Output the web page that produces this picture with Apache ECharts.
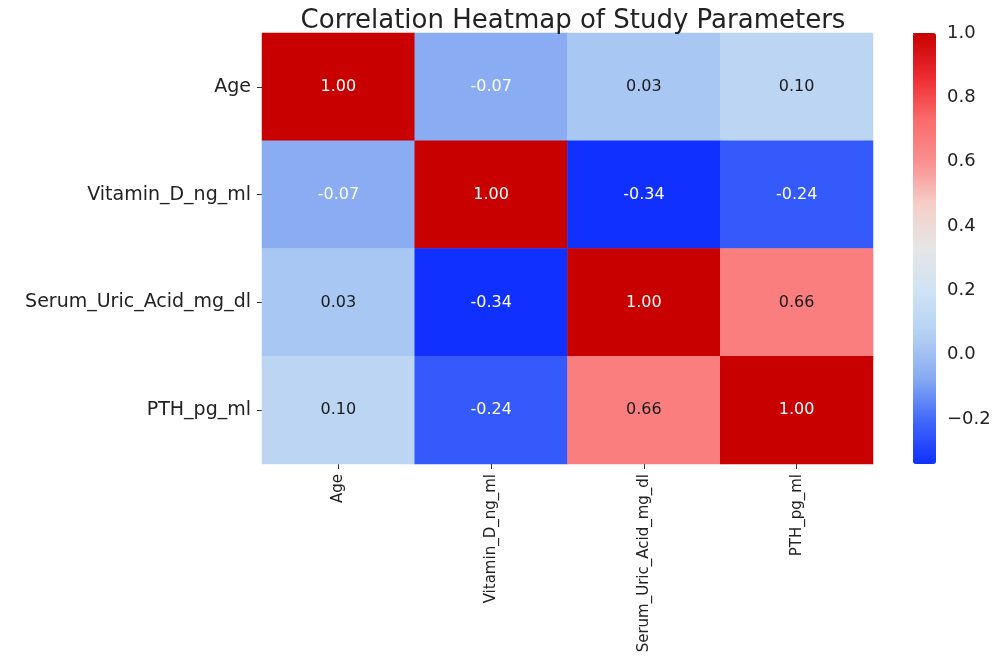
<!DOCTYPE html>
<html>
<head>
<meta charset="utf-8">
<script src="https://cdn.jsdelivr.net/npm/echarts@6/dist/echarts.min.js"></script>
<style>
html,body{margin:0;padding:0;background:#fff;}
#main{width:997px;height:657px;}
</style>
</head>
<body>
<div id="main"></div>
<script>
// 变量名
var params = ['Age', 'Vitamin_D_ng_ml', 'Serum_Uric_Acid_mg_dl', 'PTH_pg_ml'];
// 相关系数矩阵 (按行)
var rowAge = [1.00, -0.07, 0.03, 0.10];
var rowVitD = [-0.07, 1.00, -0.34, -0.24];
var rowUric = [0.03, -0.34, 1.00, 0.66];
var rowPth = [0.10, -0.24, 0.66, 1.00];
var colorbarTicks = [-0.2, 0.0, 0.2, 0.4, 0.6, 0.8, 1.0];
var vMin = -0.34, vMax = 1.0;

var rows = [rowAge, rowVitD, rowUric, rowPth];
var cmap = ['#1030ff', '#4068fa', '#88abf2', '#b3d0f3', '#cfe3f4', '#e6e6e6',
	'#f4cfc8', '#fa9090', '#fb6a6a', '#ec2a30', '#c80000'];

var font = 'DejaVu Sans';
var data = [];
for (var r = 0; r < rows.length; r++) {
	for (var c = 0; c < rows[r].length; c++) {
		var v = rows[r][c];
		var dark = v < -0.05 || v > 0.8;
		data.push({
			value: [c, r, v],
			label: {color: dark ? '#ffffff' : '#1a1a1a'}
		});
	}
}

var myChart = echarts.init(document.getElementById('main'));
var option = {
	animation: false,
	title: {
		text: 'Correlation Heatmap of Study Parameters',
		left: 568, top: 3,
		textAlign: 'center',
		textStyle: {fontFamily: font, fontSize: 26, fontWeight: 'normal', color: '#222'}
	},
	grid: [
		{left: 262, top: 33, width: 611, height: 431},
		{left: 913, top: 33, width: 23, height: 431}
	],
	xAxis: [{
		type: 'category', data: params, gridIndex: 0,
		axisLine: {show: false},
		axisTick: {show: true, alignWithLabel: true, length: 5, lineStyle: {color: '#333'}},
		axisLabel: {rotate: 90, margin: 10, fontFamily: font, fontSize: 15, color: '#222'},
		splitArea: {show: false}
	}, {
		type: 'value', gridIndex: 1, show: false, min: 0, max: 1
	}],
	yAxis: [{
		type: 'category', data: params, inverse: true, gridIndex: 0,
		axisLine: {show: false},
		axisTick: {show: true, alignWithLabel: true, length: 5, lineStyle: {color: '#333'}},
		axisLabel: {margin: 11, fontFamily: font, fontSize: 19, color: '#222'}
	}, {
		type: 'value', gridIndex: 1, position: 'right', min: vMin, max: vMax,
		axisLine: {show: false},
		splitLine: {show: false},
		axisTick: {show: true, length: 5, customValues: colorbarTicks, lineStyle: {color: '#333'}},
		axisLabel: {
			margin: 11, fontFamily: font, fontSize: 18, color: '#222',
			customValues: colorbarTicks,
			formatter: function(v){ return v.toFixed(1).replace('-', '\u2212'); }
		}
	}],
	visualMap: {
		type: 'continuous',
		min: vMin, max: vMax,
		seriesIndex: 0,
		calculable: false,
		orient: 'vertical',
		left: 913, top: 33,
		padding: 0,
		itemWidth: 23, itemHeight: 431,
		text: ['', ''],
		showLabel: false,
		inRange: {color: cmap}
	},
	series: [{
		type: 'heatmap',
		xAxisIndex: 0, yAxisIndex: 0,
		data: data,
		label: {
			show: true, fontFamily: font, fontSize: 16,
			formatter: function(p){ return p.value[2].toFixed(2); }
		},
		emphasis: {disabled: true}
	}, {
		type: 'line', xAxisIndex: 1, yAxisIndex: 1, data: []
	}]
};
myChart.setOption(option);
</script>
</body>
</html>
